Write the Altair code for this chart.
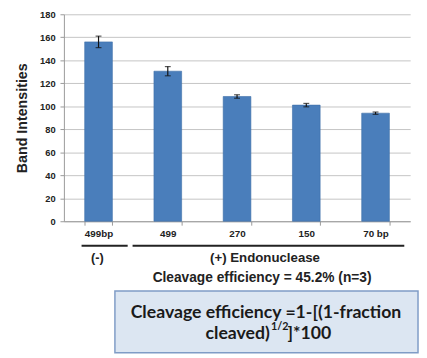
import altair as alt
import pandas as pd

categories = ["499bp", "499", "270", "150", "70 bp"]
values = [156, 130.5, 108.5, 101, 94]
errors = [5, 4, 1.5, 1.5, 1]
y_ticks = [0, 20, 40, 60, 80, 100, 120, 140, 160, 180]

df = pd.DataFrame({"cat": categories, "val": values, "err": errors})
df["lo"] = df["val"] - df["err"]
df["hi"] = df["val"] + df["err"]

W, H = 353, 211
FONT = "Liberation Sans"

x_axis = alt.Axis(labelAngle=0, labelFont=FONT, labelFontWeight="bold",
                  labelFontSize=10, labelColor="#222", tickBand="extent",
                  tickSize=4, tickColor="#999", domainColor="#999",
                  labelPadding=4, grid=False)
y_axis = alt.Axis(values=y_ticks, labelFont=FONT, labelFontWeight="bold",
                  labelFontSize=9.5, labelColor="#222", tickSize=4,
                  tickColor="#999", domainColor="#999", gridColor="#c4c4c4",
                  labelPadding=5, titleFont=FONT, titleFontSize=14.5,
                  titleFontWeight="bold", titleColor="#222",
                  titleX=-42, titleY=H / 2, titleAngle=-90,
                  titleAlign="center", titleBaseline="middle")
x_scale = alt.Scale(paddingInner=0.6, paddingOuter=0.3)
y_scale = alt.Scale(domain=[0, 180], nice=False)

base = alt.Chart(df)
bars = base.mark_bar(color="#4a7ebb", stroke="#3d6ea8", strokeWidth=0.6).encode(
    x=alt.X("cat:N", sort=categories, title=None, scale=x_scale, axis=x_axis),
    y=alt.Y("val:Q", title="Band Intensities", scale=y_scale, axis=y_axis))
err = base.mark_errorbar(ticks={"size": 6, "color": "#111"}, color="#111",
                         thickness=1.2).encode(
    x=alt.X("cat:N", sort=categories, title=None, scale=x_scale, axis=x_axis),
    y=alt.Y("lo:Q", title="Band Intensities", scale=y_scale, axis=y_axis),
    y2="hi:Q")

ann = pd.DataFrame({"k": [0]})
a = alt.Chart(ann)

line1 = a.mark_rule(color="#222", strokeWidth=2.2).encode(
    x=alt.value(18), x2=alt.value(65), y=alt.value(236))
line2 = a.mark_rule(color="#222", strokeWidth=2.2).encode(
    x=alt.value(70), x2=alt.value(347), y=alt.value(236))

def txt(s, xx, yy, size, weight="bold", font=FONT, color="#222", align="center"):
    return a.mark_text(text=s, font=font, fontSize=size, fontWeight=weight,
                       color=color, align=align, baseline="middle").encode(
        x=alt.value(xx), y=alt.value(yy))

t_minus = txt("(-)", 34, 249, 13)
t_endo = txt("(+) Endonuclease", 205, 249, 13.5)
t_eff = txt("Cleavage efficiency = 45.2% (n=3)", 202, 269, 14)

box = a.mark_rect(fill="#dce6f2", stroke="#7f9cc6", strokeWidth=1.5).encode(
    x=alt.value(52), x2=alt.value(361), y=alt.value(282), y2=alt.value(345))
BF = "Lato"
BC = "#1a1a1a"
b1 = txt("Cleavage efficiency =1-[(1-fraction", 206, 305, 18, font=BF, color=BC)
b2a = txt("cleaved)", 210, 326, 18, font=BF, color=BC, align="right")
b2b = txt("1/2", 211, 319, 11, font=BF, color=BC, align="left")
b2c = txt("]*100", 228, 326, 18, font=BF, color=BC, align="left")

chart = alt.layer(bars, err, line1, line2, t_minus, t_endo, t_eff, box, b1, b2a, b2b, b2c).properties(
    width=W, height=H,
    autosize=alt.AutoSizeParams(type="none"),
    padding={"left": 57, "top": 3, "right": 9, "bottom": 136},
).configure_view(stroke=None)

chart.save("out.html", embed_options={"renderer": "svg", "actions": False})
